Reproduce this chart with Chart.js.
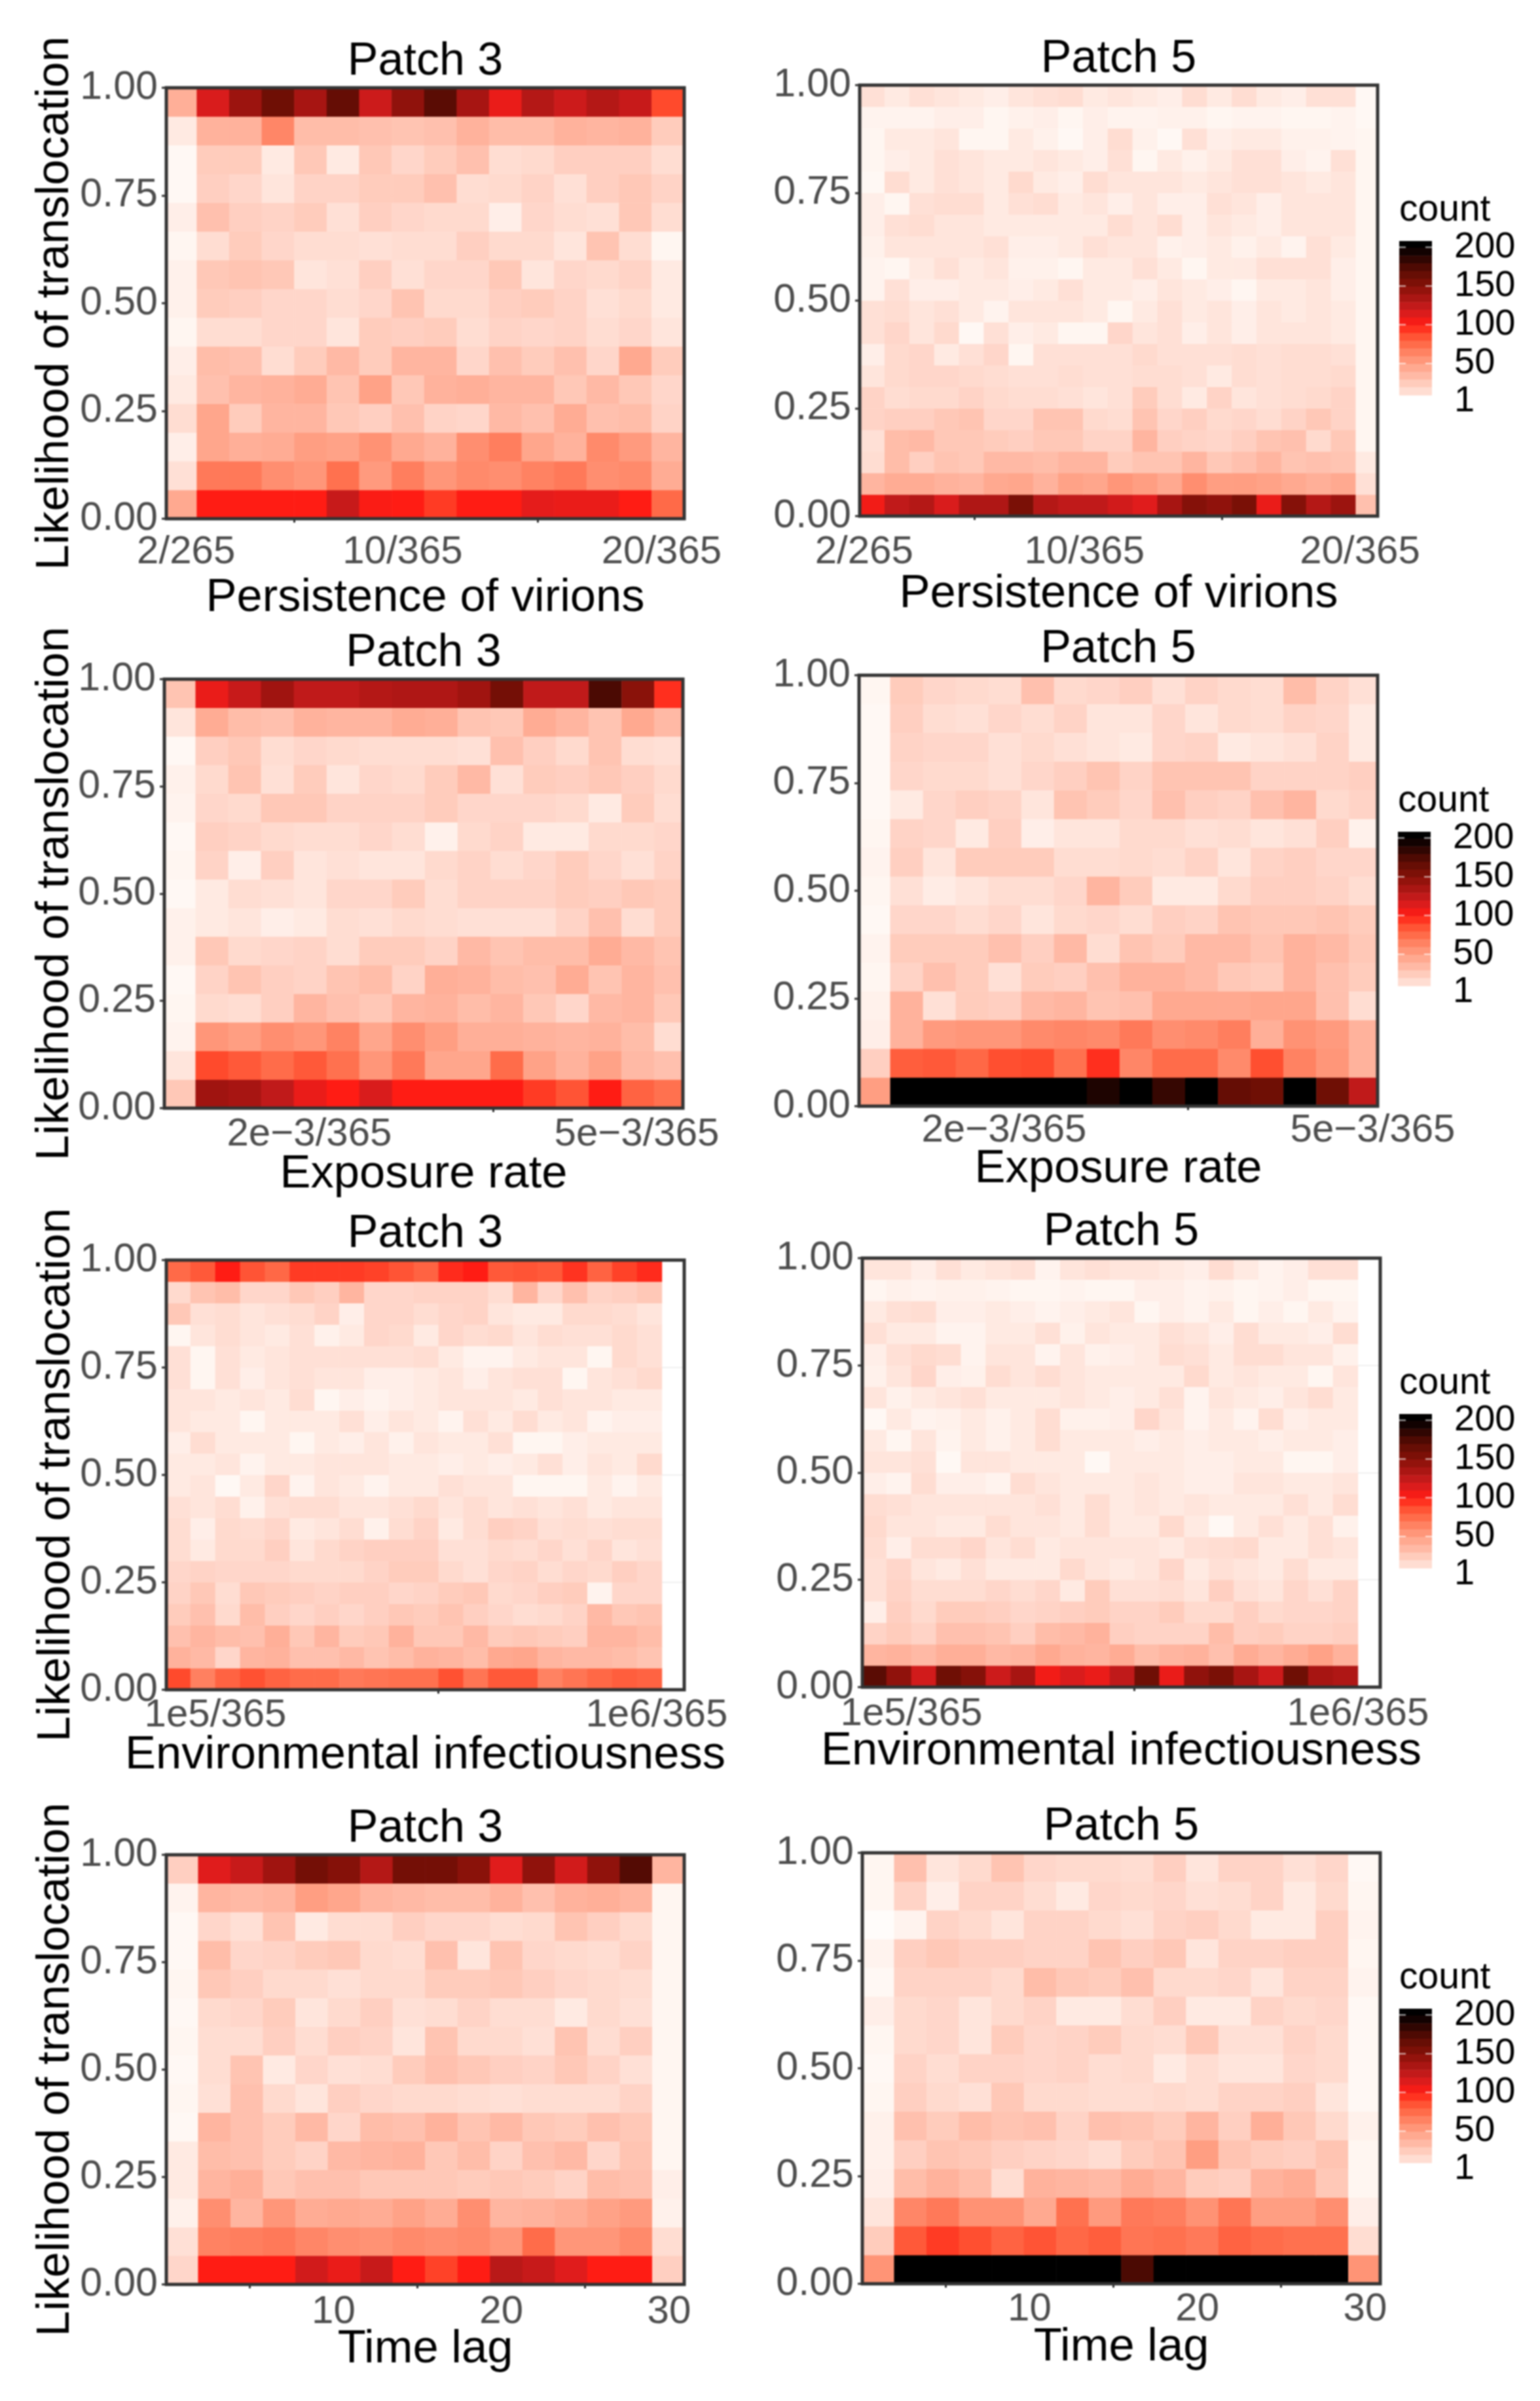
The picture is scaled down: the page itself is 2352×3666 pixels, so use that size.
<!DOCTYPE html>
<html>
<head>
<meta charset="utf-8">
<script src="https://cdn.jsdelivr.net/npm/chart.js@4"></script>
<style>
html,body{margin:0;padding:0;background:#fff;width:2352px;height:3666px;overflow:hidden}
canvas{position:absolute;filter:blur(0.9px)}
</style>
</head>
<body>
<script>
// ---------- bin edges of the likelihood axis ----------
const yEdges15=[1,0.9333,0.8667,0.8,0.7333,0.6667,0.6,0.5333,0.4667,0.4,0.3333,0.2667,0.2,0.1333,0.0667,0];
const yEdges20=[1,0.95,0.9,0.85,0.8,0.75,0.7,0.65,0.6,0.55,0.5,0.45,0.4,0.35,0.3,0.25,0.2,0.15,0.1,0.05,0];
const yTicks=[0,0.25,0.5,0.75,1];

// ---------- bin centres of the parameter axes ----------
const xPersist16=[1.8,3,4.2,5.4,6.6,7.8,9,10.2,11.4,12.6,13.8,15,16.2,17.4,18.6,19.8];
const xPersist21=[2.3,3.2,4.1,5,5.9,6.8,7.7,8.6,9.5,10.4,11.3,12.2,13.1,14,14.9,15.8,16.7,17.6,18.5,19.4,20.3];
const xExposure=[0.941,1.208,1.475,1.741,2.008,2.275,2.541,2.808,3.075,3.341,3.608,3.875,4.141,4.408,4.675,4.941];
const xEnviron=[0.25,0.75,1.25,1.75,2.25,2.75,3.25,3.75,4.25,4.75,5.25,5.75,6.25,6.75,7.25,7.75,8.25,8.75,9.25,9.75,10.25];
const xLag=[0.967,2.9,4.833,6.767,8.7,10.633,12.567,14.5,16.433,18.367,20.3,22.233,24.167,26.1,28.033,29.967];

// ---------- tick labels ----------
const persistTicks=[2,10,20], persistLabels=["2/265","10/365","20/365"];
const exposureTicks=[2,5], exposureLabels=["2e\u22123/365","5e\u22123/365"];
const environTicks=[1,10], environLabels=["1e5/365","1e6/365"];
const lagTicks=[10,20,30], lagLabels=["10","20","30"];
const legendTicks=[1,50,100,150,200];
const legendBands=[9,19,29,39,49,59,69,79,89,99,109,119,129,139,149,159,169,179,189,199,208];

// ---------- counts, rows from top (likelihood 1) to bottom (likelihood 0) ----------
const persistPatch3=[
[40,115,140,160,135,165,120,145,170,135,108,130,120,130,122,88],
[8,38,38,62,32,32,30,28,30,38,32,32,38,36,38,24],
[2,24,24,8,26,8,26,18,24,30,14,16,22,22,22,14],
[2,22,18,10,20,20,24,24,30,14,16,20,12,22,26,20],
[6,30,22,20,24,12,22,18,16,16,6,18,14,12,26,14],
[3,14,24,18,14,14,12,14,14,22,16,16,10,28,14,3],
[5,26,28,26,10,12,22,12,18,18,26,10,18,16,20,8],
[5,24,22,18,18,14,18,28,16,16,22,24,20,12,16,8],
[3,14,14,18,18,10,24,22,24,14,20,18,20,14,18,10],
[6,32,30,14,24,34,24,36,36,18,30,24,30,18,44,24],
[8,30,36,38,42,28,48,26,38,40,36,36,26,34,26,18],
[14,46,24,36,36,26,22,30,20,18,34,30,42,30,32,20],
[6,46,40,42,50,48,56,44,38,58,66,46,38,60,52,36],
[12,68,68,58,54,72,52,66,54,60,58,64,68,58,60,42],
[44,100,100,100,100,122,102,100,92,100,100,110,108,108,100,75]];

const persistPatch5=[
[12,8,12,10,8,6,10,12,14,8,10,8,6,14,8,14,8,6,12,12,2],
[4,4,4,6,6,3,5,6,3,6,4,4,5,5,3,4,4,3,3,4,2],
[3,8,8,10,3,3,8,5,2,6,14,5,2,12,6,8,8,5,5,4,3],
[3,6,8,12,10,8,8,10,8,6,12,3,8,5,8,12,12,6,4,12,3],
[2,14,8,12,10,8,16,8,6,14,10,10,10,8,10,12,12,10,8,10,3],
[6,3,12,14,14,8,12,14,8,10,6,10,6,6,12,10,6,10,10,10,3],
[6,12,14,10,10,8,8,8,8,8,14,10,14,6,10,8,6,10,10,10,3],
[5,10,10,10,10,12,6,6,8,12,10,10,5,6,8,5,8,4,12,8,3],
[4,3,8,12,8,10,5,5,3,8,8,12,8,3,8,8,12,12,12,6,3],
[4,12,6,6,8,8,6,8,12,8,8,6,10,8,6,3,8,8,10,6,3],
[12,14,10,12,8,4,10,10,10,8,3,8,12,8,10,6,10,8,10,8,3],
[12,18,10,16,2,12,6,8,3,3,18,10,12,6,10,6,10,10,10,8,3],
[6,16,18,8,12,18,3,12,12,12,12,16,12,12,12,14,12,14,14,12,3],
[10,16,18,18,16,14,12,12,14,12,12,14,14,12,8,14,12,14,14,16,3],
[20,14,16,16,20,16,14,14,12,10,12,24,14,8,20,10,12,14,16,20,3],
[20,22,22,26,28,18,18,28,28,16,14,28,18,22,16,18,14,20,26,20,3],
[12,32,34,26,26,24,22,26,26,20,20,36,22,20,18,22,28,30,16,26,3],
[14,32,22,28,26,34,34,32,36,36,24,28,28,36,26,30,36,28,30,28,8],
[36,42,42,38,36,44,46,38,48,46,54,50,44,58,50,50,48,44,40,44,12],
[105,125,130,115,132,132,155,130,125,125,118,112,135,150,145,155,108,150,130,140,30]];

const exposurePatch3=[
[28,108,122,138,125,125,130,132,132,138,158,125,125,175,148,95],
[10,42,32,30,38,36,36,42,40,28,26,42,36,28,44,34],
[2,22,26,14,18,16,14,14,14,12,30,22,16,28,14,12],
[5,16,28,12,24,10,18,16,24,34,12,24,22,26,22,16],
[4,18,16,26,26,20,20,20,24,18,18,18,16,8,24,14],
[2,22,20,16,14,14,18,14,5,16,20,8,8,16,16,18],
[3,20,6,22,10,12,10,10,16,20,14,18,24,18,12,20],
[2,8,14,12,10,18,18,24,14,20,20,20,24,22,26,24],
[5,8,10,6,8,14,12,16,14,12,12,12,20,30,14,24],
[5,26,16,18,20,14,24,24,20,34,28,32,32,42,34,28],
[2,20,28,22,20,28,32,20,40,38,32,30,42,28,36,30],
[3,16,14,22,36,30,26,36,38,32,36,26,18,34,36,26],
[4,54,50,58,54,64,46,58,50,40,40,38,36,38,32,14],
[10,88,82,74,82,72,54,68,46,46,74,48,38,48,34,30],
[26,138,135,125,108,100,115,100,100,100,100,92,84,100,78,72]];

const exposurePatch5=[
[3,24,18,16,14,30,16,18,22,12,20,16,14,32,20,12],
[2,22,14,12,18,14,20,10,10,18,10,16,14,20,18,8],
[2,20,18,18,12,16,12,10,8,18,20,8,10,12,20,8],
[2,18,16,16,12,18,22,28,20,28,28,28,20,20,20,22],
[2,8,18,22,20,10,28,24,18,30,22,20,30,36,16,20],
[3,20,18,8,22,6,10,10,16,16,12,14,10,12,22,5],
[4,22,10,24,24,24,14,14,16,14,20,10,20,22,18,18],
[3,12,7,10,14,14,18,36,24,8,8,16,22,22,20,14],
[2,18,18,14,18,10,16,18,14,22,20,28,26,26,28,24],
[4,24,24,24,30,22,34,14,28,24,34,34,28,38,34,26],
[3,20,30,24,12,24,22,30,38,38,34,26,24,38,30,24],
[5,38,12,24,22,34,36,28,30,44,44,44,46,46,30,14],
[6,38,52,54,54,60,62,60,68,58,60,66,40,56,52,38],
[22,80,82,76,86,88,72,95,62,74,74,60,86,64,54,38],
[50,200,200,200,200,200,200,190,200,182,200,165,160,200,160,125]];

const environPatch3=[
[75,82,100,84,76,92,92,92,90,84,78,96,100,82,84,82,94,78,90,96,0],
[16,28,32,18,18,26,22,36,18,18,20,20,20,14,36,18,30,20,22,26,0],
[26,12,14,10,12,14,20,6,18,18,14,18,20,10,8,8,16,16,14,10,0],
[3,10,14,10,8,12,5,8,18,16,8,18,14,16,10,14,12,12,16,12,0],
[12,3,12,8,10,12,12,12,12,12,14,8,4,4,8,10,10,3,16,12,0],
[12,3,12,6,10,12,10,10,6,6,8,10,6,10,12,12,3,10,12,16,0],
[10,10,8,10,8,14,3,6,4,6,8,10,10,10,8,12,10,10,8,8,0],
[10,8,8,3,8,8,8,12,6,10,8,4,12,8,14,8,10,4,6,6,0],
[6,14,8,8,8,3,8,6,10,5,10,8,8,12,3,3,6,8,8,8,0],
[8,8,10,4,8,8,10,10,10,8,8,6,8,6,8,12,6,10,8,16,0],
[8,10,2,8,18,4,10,8,4,8,8,12,10,10,3,3,3,8,4,8,0],
[12,10,14,5,12,14,14,10,10,12,16,10,14,10,12,10,12,8,10,10,0],
[14,6,16,14,18,8,10,14,5,14,20,8,14,22,20,12,14,12,14,14,0],
[14,8,16,16,22,10,16,20,22,22,22,12,12,16,14,18,12,18,10,12,0],
[18,20,18,18,18,16,16,16,20,24,24,16,12,18,20,14,18,16,22,18,0],
[20,26,14,26,24,22,20,22,22,18,20,24,26,16,18,22,24,4,18,18,0],
[24,30,16,32,22,18,22,18,22,26,24,28,22,18,14,16,20,34,26,28,0],
[30,36,32,30,40,26,36,24,26,38,26,26,34,24,26,24,22,36,36,32,0],
[38,34,18,36,38,30,30,34,28,32,38,36,32,44,46,36,34,34,32,28,0],
[88,65,78,85,78,74,74,68,70,72,72,85,70,82,82,64,70,76,80,78,0]];

const environPatch5=[
[10,10,6,12,8,10,12,4,10,12,10,10,8,6,14,8,4,6,12,12,0],
[3,5,4,5,5,4,3,3,4,3,3,6,6,4,5,3,4,6,3,3,0],
[8,12,14,6,6,8,6,4,6,8,10,3,6,4,8,3,6,3,8,4,0],
[12,8,8,4,4,8,8,12,5,10,8,8,12,10,6,14,8,8,6,14,0],
[6,12,16,14,4,10,10,4,10,5,6,8,14,12,8,14,14,10,10,5,0],
[5,10,18,6,5,14,10,14,10,8,8,8,8,16,8,10,8,8,3,10,0],
[10,5,8,10,12,8,8,8,10,8,6,8,12,4,10,8,6,10,14,8,0],
[2,8,4,5,8,5,8,14,5,5,6,18,10,4,8,4,14,6,8,8,0],
[8,3,10,4,8,5,8,14,8,8,8,6,8,6,8,8,6,8,8,6,0],
[10,10,12,2,10,10,8,8,8,2,8,8,8,6,6,8,8,3,3,6,0],
[6,4,14,6,6,4,14,10,8,8,8,10,8,6,6,10,10,8,8,10,0],
[14,12,10,10,10,10,10,12,8,14,8,10,8,10,8,8,8,12,8,14,0],
[16,10,10,8,8,14,10,10,8,14,8,8,16,8,2,8,12,8,12,5,0],
[14,6,14,14,18,10,14,8,10,10,10,10,8,12,14,16,8,8,12,10,0],
[12,18,10,8,12,8,8,8,16,10,8,10,18,8,12,10,8,14,8,8,0],
[12,20,14,14,14,18,14,18,8,24,12,12,14,10,22,12,10,18,12,20,0],
[6,22,16,24,24,22,18,20,22,24,20,20,24,16,16,22,16,18,18,20,0],
[20,24,20,30,30,28,22,32,34,38,22,20,20,20,32,22,24,20,20,22,0],
[36,38,34,40,40,34,36,44,38,36,42,32,36,38,30,42,36,42,48,38,0],
[170,145,118,160,150,120,135,105,115,108,125,160,108,145,155,135,120,160,135,132,0]];

const lagPatch3=[
[22,112,122,138,158,150,130,158,158,148,112,145,118,145,172,36],
[4,36,34,36,50,46,36,34,32,32,38,30,38,40,36,3],
[2,18,12,28,8,14,14,22,18,18,14,16,28,22,16,3],
[2,32,18,20,24,26,16,14,30,10,28,18,16,14,20,3],
[3,26,22,16,16,12,16,16,24,24,26,22,18,16,14,3],
[2,16,18,24,10,16,22,12,14,20,14,14,8,16,12,3],
[3,14,14,22,14,22,20,10,28,16,16,12,28,14,22,3],
[2,14,28,8,18,12,14,24,30,26,22,20,26,20,12,3],
[3,12,30,16,10,22,18,16,16,14,12,14,14,14,20,3],
[2,36,30,24,34,18,32,30,38,28,34,26,24,30,26,3],
[8,32,30,24,20,34,36,38,26,32,20,30,34,18,28,3],
[8,36,40,26,30,30,26,26,26,24,26,24,20,32,30,6],
[5,58,36,54,42,44,42,48,42,58,36,38,42,48,52,5],
[12,64,66,68,62,58,56,60,58,60,54,74,54,54,60,14],
[18,100,100,100,118,108,122,100,90,100,128,122,112,100,100,22]];

const lagPatch5=[
[3,30,10,16,28,18,16,16,14,22,10,20,20,12,18,2],
[3,20,6,20,20,14,8,18,16,18,12,14,20,8,16,3],
[1,4,20,16,10,20,20,16,12,20,22,16,8,8,22,4],
[4,22,26,22,22,20,20,28,22,26,10,20,20,22,22,3],
[2,20,20,20,16,32,26,24,30,16,16,18,10,20,20,4],
[6,16,18,10,16,20,8,8,14,22,8,8,20,16,18,2],
[3,16,18,10,24,18,20,24,16,14,26,12,12,20,16,2],
[2,20,14,20,20,18,20,14,16,8,14,10,10,18,16,2],
[3,22,16,12,26,16,16,14,14,16,14,20,20,22,10,2],
[5,30,24,32,28,30,20,30,28,24,36,22,40,26,16,5],
[5,22,28,26,22,20,18,14,24,28,50,28,24,22,28,3],
[6,32,38,32,14,38,36,34,42,36,24,22,38,42,26,3],
[10,62,68,56,56,44,72,52,68,66,56,70,50,50,58,6],
[24,82,92,86,78,84,76,80,70,72,68,78,74,72,72,14],
[55,200,200,200,200,200,200,200,175,200,200,200,200,200,200,55]];

// ---------- colour scale ----------
const colourStops=[[0,[255,255,255]],[2,[255,248,244]],[12,[255,224,214]],[20,[255,211,198]],[28,[255,196,178]],[36,[255,181,160]],[46,[255,166,140]],[56,[255,146,116]],[65,[255,128,96]],[75,[255,106,72]],[88,[255,74,44]],[100,[255,28,20]],[112,[224,28,28]],[125,[192,26,26]],[138,[160,20,16]],[155,[122,16,6]],[170,[90,12,4]],[200,[0,0,0]]];
function colourFor(v){
  if(v<=0) return 'rgba(255,255,255,0)';
  for(let i=1;i<colourStops.length;i++){
    const a=colourStops[i-1],b=colourStops[i];
    if(v<=b[0]){
      const t=(v-a[0])/(b[0]-a[0]);
      const c=a[1].map((q,k)=>Math.round(q+(b[1][k]-q)*t));
      return `rgb(${c[0]},${c[1]},${c[2]})`;
    }
  }
  return 'rgb(0,0,0)';
}

// ---------- layout ----------
const FONT='"Liberation Sans", Arial, sans-serif';
const panels=[
 {L:254,R:1045,T:134,B:792,yBox:212,tickPad:15,axisH:157,lastShift:-18,counts:persistPatch3,xs:xPersist16,yEdges:yEdges15,xMin:1.27,xMax:20.4,ticks:persistTicks,labels:persistLabels,xTitle:'Persistence of virions',title:'Patch 3',left:true},
 {L:1313,R:2104,T:130,B:788,yBox:130,tickPad:19,axisH:155,legendLeft:2137,legendTop:368,counts:persistPatch5,xs:xPersist21,yEdges:yEdges20,xMin:1.84,xMax:20.64,ticks:persistTicks,labels:persistLabels,xTitle:'Persistence of virions',title:'Patch 5'},
 {L:251,R:1043,T:1037,B:1692,yBox:209,tickPad:4,axisH:137,lastShift:-63,counts:exposurePatch3,xs:xExposure,yEdges:yEdges15,xMin:0.82,xMax:5.04,ticks:exposureTicks,labels:exposureLabels,xTitle:'Exposure rate',title:'Patch 3',left:true},
 {L:1312,R:2104,T:1031,B:1689,yBox:130,tickPad:1,axisH:132,legendLeft:2135,legendTop:1270,counts:exposurePatch5,xs:xExposure,yEdges:yEdges15,xMin:0.82,xMax:5.04,ticks:exposureTicks,labels:exposureLabels,xTitle:'Exposure rate',title:'Patch 5'},
 {L:254,R:1045,T:1924,B:2580,yBox:210,tickPad:3,axisH:136,lastShift:-8,counts:environPatch3,xs:xEnviron,yEdges:yEdges20,xMin:0.01,xMax:10.45,ticks:environTicks,labels:environLabels,xTitle:'Environmental infectiousness',title:'Patch 3',left:true},
 {L:1317,R:2108,T:1921,B:2576,yBox:130,tickPad:5,axisH:134,legendLeft:2137,legendTop:2159,counts:environPatch5,xs:xEnviron,yEdges:yEdges20,xMin:0.01,xMax:10.45,ticks:environTicks,labels:environLabels,xTitle:'Environmental infectiousness',title:'Patch 5'},
 {L:254,R:1045,T:2832,B:3488,yBox:211,tickPad:6,axisH:135,counts:lagPatch3,xs:xLag,yEdges:yEdges15,xMin:0.03,xMax:30.9,ticks:lagTicks,labels:lagLabels,xTitle:'Time lag',title:'Patch 3',left:true},
 {L:1317,R:2108,T:2829,B:3487,yBox:130,tickPad:3,axisH:133,legendLeft:2137,legendTop:3067,counts:lagPatch5,xs:xLag,yEdges:yEdges15,xMin:0.03,xMax:30.9,ticks:lagTicks,labels:lagLabels,xTitle:'Time lag',title:'Patch 5'}
];

const frame={id:'frame',afterDatasetsDraw(c){
  const a=c.chartArea,x=c.ctx;
  x.save();x.strokeStyle='#333';x.lineWidth=5;x.strokeRect(a.left,a.top,a.right-a.left,a.bottom-a.top);x.restore();
}};

function addCanvas(left,top,w,h){
  const el=document.createElement('canvas');
  el.style.left=left+'px';el.style.top=top+'px';
  el.width=w;el.height=h;el.style.width=w+'px';el.style.height=h+'px';
  document.body.appendChild(el);
  return el;
}

const TITLE_BLOCK=94, BOT=14, RIGHT=150;
panels.forEach(p=>{
  const yBox=p.yBox;
  const w=p.R-p.L, h=p.B-p.T;
  const el=addCanvas(p.L-yBox,p.T-TITLE_BLOCK,yBox+w+RIGHT,TITLE_BLOCK+h+p.axisH+BOT);
  const datasets=p.counts.map((row,r)=>({
    data:row.map((v,i)=>({x:p.xs[i],y:[p.yEdges[r+1],p.yEdges[r]]})),
    backgroundColor:row.map(colourFor),
    borderWidth:0,
    barPercentage:1,categoryPercentage:1
  }));
  // Axis title may run wider than the panel (widen only while the axis draws),
  // and one end label sits off its tick.
  const axisTweaks={id:'axisTweaks',
    beforeDraw(c){
      const s=c.scales.x;
      if(p.lastShift){
        const items=s.getLabelItems(c.chartArea);
        items[items.length-1].options.translation[0]+=p.lastShift;
      }
      s.left-=120;s.right+=120;
    },
    beforeDatasetsDraw(c){const s=c.scales.x;s.left+=120;s.right-=120;}
  };
  new Chart(el,{
    type:'bar',
    data:{datasets},
    options:{
      responsive:false,animation:false,devicePixelRatio:1,
      layout:{autoPadding:false,padding:{left:0,right:RIGHT,top:0,bottom:BOT}},
      plugins:{
        legend:{display:false},tooltip:{enabled:false},
        title:{display:true,text:p.title,fullSize:false,color:'#000',
          font:{family:FONT,size:70,weight:'normal',lineHeight:1},padding:{top:20,bottom:4}}
      },
      scales:{
        x:{type:'linear',stacked:true,offset:false,min:p.xMin,max:p.xMax,
          afterBuildTicks(s){s.ticks=p.ticks.map(v=>({value:v}));},
          afterFit(s){s.height=p.axisH;},
          border:{display:false},
          grid:{display:true,drawOnChartArea:false,color:'#333',tickColor:'#333',tickLength:6,lineWidth:3},
          ticks:{autoSkip:false,maxRotation:0,minRotation:0,padding:p.tickPad,color:'#4d4d4d',
            font:{family:FONT,size:60,lineHeight:1},
            callback(v){const i=p.ticks.indexOf(v);return i<0?'':p.labels[i];}},
          title:{display:true,text:p.xTitle,color:'#000',font:{family:FONT,size:70.5,lineHeight:1},padding:{top:0,bottom:0}}
        },
        y:{type:'linear',min:0,max:1,
          afterBuildTicks(s){s.ticks=yTicks.map(v=>({value:v}));},
          afterFit(s){s.width=yBox;},
          border:{display:false},
          grid:{display:true,color:'#f0f0f0',lineWidth:2,tickColor:'#333',tickLength:7,tickWidth:3},
          ticks:{padding:6,color:'#4d4d4d',font:{family:FONT,size:61,lineHeight:1},callback(v){return v.toFixed(2);}},
          title:{display:!!p.left,text:'Likelihood of translocation',color:'#000',font:{family:FONT,size:70.5,lineHeight:1.2},padding:{top:0,bottom:0}}
        }
      }
    },
    plugins:[frame,axisTweaks]
  });

  if(!p.left){
    const barLeft=p.legendLeft, barTop=p.legendTop, barBot=barTop+245;
    const lTop=barTop-80;
    const lel=addCanvas(barLeft,lTop,215,barBot-lTop+80);
    const ldatasets=legendBands.slice(0,-1).map((lo,i)=>({
      data:[[lo,legendBands[i+1]]],
      backgroundColor:colourFor(i===legendBands.length-2?200:(lo+legendBands[i+1])/2),
      borderWidth:0,barPercentage:1,categoryPercentage:1
    }));
    const tickMarks={id:'tickMarks',afterDatasetsDraw(c){
      const a=c.chartArea,x=c.ctx,s=c.scales.y;
      x.save();x.strokeStyle='rgba(255,255,255,0.7)';x.lineWidth=2;
      legendTicks.slice(1).forEach(v=>{
        const yy=s.getPixelForValue(v);
        x.beginPath();x.moveTo(a.left,yy);x.lineTo(a.left+10,yy);x.moveTo(a.right-10,yy);x.lineTo(a.right,yy);x.stroke();
      });
      x.restore();
    }};
    new Chart(lel,{
      type:'bar',
      data:{labels:['count'],datasets:ldatasets},
      options:{
        responsive:false,animation:false,devicePixelRatio:1,
        layout:{autoPadding:false,padding:{left:0,right:0,top:0,bottom:80}},
        plugins:{
          legend:{display:false},tooltip:{enabled:false},
          title:{display:true,text:'count',align:'start',fullSize:true,color:'#000',
            font:{family:FONT,size:57,weight:'normal',lineHeight:1},padding:{top:5,bottom:18}}
        },
        scales:{
          x:{display:false,stacked:true,offset:true},
          y:{position:'right',min:1,max:208,
            afterBuildTicks(s){s.ticks=legendTicks.map(v=>({value:v}));},
            afterFit(s){s.width=165;},
            border:{display:false},
            grid:{display:false},
            ticks:{autoSkip:false,padding:26,color:'#000',font:{family:FONT,size:56,lineHeight:1}}
          }
        }
      },
      plugins:[tickMarks]
    });
  }
});
</script>
</body>
</html>
